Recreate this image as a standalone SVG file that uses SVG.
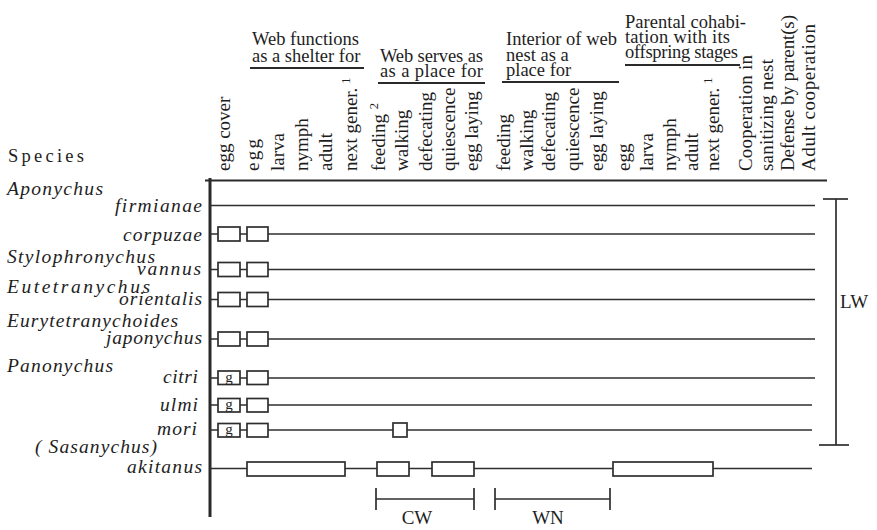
<svg xmlns="http://www.w3.org/2000/svg" width="877" height="530" viewBox="0 0 877 530" font-family="Liberation Serif, DejaVu Serif, serif">
<style>
.ln{stroke:#2e2e2e;stroke-width:1.7;fill:none}
.ax{stroke:#2a2a2a;fill:none}
.bx{fill:#fff;stroke:#2e2e2e;stroke-width:1.7}
.hd{font-size:18.5px;fill:#1e1e1e}
.vc{font-size:19px;fill:#1e1e1e}
.sm{font-size:12.5px;fill:#1e1e1e}
.g{font-size:15px;fill:#1e1e1e}
.sp{font-style:italic;font-size:19.5px;fill:#1e1e1e}
</style>
<rect width="877" height="530" fill="#fff"/>
<g id="headers">
  <text class="hd" x="8" y="162" font-size="19.5" textLength="76" lengthAdjust="spacing">Species</text>
  <g id="grp-shelter">
    <text class="hd" x="252" y="45">Web functions</text>
    <text class="hd" x="252" y="62">as a shelter for</text>
    <line class="ax" stroke-width="2" x1="250" y1="68" x2="364" y2="68"/>
  </g>
  <g id="grp-place">
    <text class="hd" x="380" y="62" textLength="103" lengthAdjust="spacing">Web serves as</text>
    <text class="hd" x="380" y="77" textLength="103" lengthAdjust="spacing">as a place for</text>
    <line class="ax" stroke-width="2" x1="378" y1="83" x2="485" y2="83"/>
  </g>
  <g id="grp-interior">
    <text class="hd" x="506" y="45">Interior of web</text>
    <text class="hd" x="506" y="61">nest as a</text>
    <text class="hd" x="506" y="76">place for</text>
    <line class="ax" stroke-width="2" x1="502" y1="82" x2="619" y2="82"/>
  </g>
  <g id="grp-parental">
    <text class="hd" x="625" y="28" textLength="121" lengthAdjust="spacing">Parental cohabi-</text>
    <text class="hd" x="625" y="43" textLength="105" lengthAdjust="spacing">tation with its</text>
    <text class="hd" x="625" y="58" textLength="113" lengthAdjust="spacing">offspring stages</text>
    <line class="ax" stroke-width="2" x1="625" y1="65" x2="740" y2="65"/>
  </g>
  <g id="columns">
    <text class="vc" transform="translate(230,171) rotate(-90)">egg cover</text>
    <text class="vc" transform="translate(259,171) rotate(-90)" textLength="32" lengthAdjust="spacing">egg</text>
    <text class="vc" transform="translate(284,171) rotate(-90)">larva</text>
    <text class="vc" transform="translate(308,171) rotate(-90)">nymph</text>
    <text class="vc" transform="translate(332,171) rotate(-90)">adult</text>
    <text class="vc" transform="translate(357,171) rotate(-90)">next gener.<tspan class="sm" dx="4" dy="-7">1</tspan></text>
    <text class="vc" transform="translate(385,171) rotate(-90)">feeding <tspan class="sm" dy="-7">2</tspan></text>
    <text class="vc" transform="translate(408,171) rotate(-90)">walking</text>
    <text class="vc" transform="translate(432,171) rotate(-90)">defecating</text>
    <text class="vc" transform="translate(455,171) rotate(-90)">quiescence</text>
    <text class="vc" transform="translate(478,171) rotate(-90)">egg laying</text>
    <text class="vc" transform="translate(510,171) rotate(-90)">feeding</text>
    <text class="vc" transform="translate(533,171) rotate(-90)">walking</text>
    <text class="vc" transform="translate(555,171) rotate(-90)">defecating</text>
    <text class="vc" transform="translate(579,171) rotate(-90)">quiescence</text>
    <text class="vc" transform="translate(603,171) rotate(-90)">egg laying</text>
    <text class="vc" transform="translate(630,171) rotate(-90)">egg</text>
    <text class="vc" transform="translate(653,171) rotate(-90)">larva</text>
    <text class="vc" transform="translate(676,171) rotate(-90)">nymph</text>
    <text class="vc" transform="translate(698,171) rotate(-90)">adult</text>
    <text class="vc" transform="translate(719,171) rotate(-90)">next gener.<tspan class="sm" dx="4" dy="-7">1</tspan></text>
    <text class="vc" transform="translate(752,171) rotate(-90)" textLength="116" lengthAdjust="spacing">Cooperation in</text>
    <text class="vc" transform="translate(773,171) rotate(-90)" textLength="112" lengthAdjust="spacing">sanitizing nest</text>
    <text class="vc" transform="translate(794,171) rotate(-90)" textLength="156" lengthAdjust="spacing">Defense by parent(s)</text>
    <text class="vc" transform="translate(815,171) rotate(-90)" textLength="147" lengthAdjust="spacing">Adult cooperation</text>
  </g>
</g>
<g id="connectors">
  <line class="ax" stroke-width="2.2" x1="205" y1="180.5" x2="827" y2="180.5"/>
  <line class="ax" stroke-width="3" x1="210" y1="178" x2="210" y2="517"/>
  <line class="ln" x1="210" y1="205.5" x2="815" y2="205.5"/>
  <line class="ln" x1="210" y1="234" x2="815" y2="234"/>
  <line class="ln" x1="210" y1="269.5" x2="815" y2="269.5"/>
  <line class="ln" x1="210" y1="299.5" x2="815" y2="299.5"/>
  <line class="ln" x1="210" y1="339" x2="815" y2="339"/>
  <line class="ln" x1="210" y1="378" x2="815" y2="378"/>
  <line class="ln" x1="210" y1="405" x2="812" y2="405"/>
  <line class="ln" x1="210" y1="430" x2="812" y2="430"/>
  <line class="ln" x1="210" y1="468.5" x2="812" y2="468.5"/>
  <g id="bracket-LW">
    <line class="ln" x1="836" y1="199" x2="836" y2="445"/>
    <line class="ln" x1="823" y1="199" x2="848" y2="199"/>
    <line class="ln" x1="819" y1="445" x2="849" y2="445"/>
  </g>
  <g id="bracket-CW">
    <line class="ln" x1="376" y1="499" x2="474" y2="499"/>
    <line class="ln" x1="376" y1="488" x2="376" y2="510"/>
    <line class="ln" x1="474" y1="488" x2="474" y2="510"/>
  </g>
  <g id="bracket-WN">
    <line class="ln" x1="495" y1="499" x2="610" y2="499"/>
    <line class="ln" x1="495" y1="488" x2="495" y2="510"/>
    <line class="ln" x1="610" y1="488" x2="610" y2="510"/>
  </g>
</g>
<g id="bracket-labels">
  <text class="vc" x="840" y="308">LW</text>
  <text class="vc" x="417" y="524" text-anchor="middle">CW</text>
  <text class="vc" x="548" y="524" text-anchor="middle">WN</text>
</g>
<g id="genus-labels">
  <text class="sp" x="7" y="195" textLength="96" lengthAdjust="spacing">Aponychus</text>
  <text class="sp" x="7" y="263" textLength="148" lengthAdjust="spacing">Stylophronychus</text>
  <text class="sp" x="7" y="293" textLength="143" lengthAdjust="spacing">Eutetranychus</text>
  <text class="sp" x="7" y="327" textLength="171" lengthAdjust="spacing">Eurytetranychoides</text>
  <text class="sp" x="7" y="372" textLength="106" lengthAdjust="spacing">Panonychus</text>
  <text class="sp" x="35" y="453" textLength="122" lengthAdjust="spacing">( Sasanychus)</text>
</g>
<g id="sp-firmianae">
  <text class="sp" x="202" y="212" text-anchor="end" textLength="87" lengthAdjust="spacing">firmianae</text>
</g>
<g id="sp-corpuzae">
  <text class="sp" x="202" y="241" text-anchor="end" textLength="79" lengthAdjust="spacing">corpuzae</text>
  <rect class="bx" x="218" y="227" width="22" height="14"/>
  <rect class="bx" x="247" y="227" width="21" height="14"/>
</g>
<g id="sp-vannus">
  <text class="sp" x="201" y="275" text-anchor="end" textLength="64" lengthAdjust="spacing">vannus</text>
  <rect class="bx" x="218" y="262.5" width="22" height="14"/>
  <rect class="bx" x="247" y="262.5" width="21" height="14"/>
</g>
<g id="sp-orientalis">
  <text class="sp" x="202" y="305" text-anchor="end" textLength="83" lengthAdjust="spacing">orientalis</text>
  <rect class="bx" x="218" y="292.5" width="22" height="14"/>
  <rect class="bx" x="247" y="292.5" width="21" height="14"/>
</g>
<g id="sp-japonychus">
  <text class="sp" x="202" y="344" text-anchor="end" textLength="96" lengthAdjust="spacing">japonychus</text>
  <rect class="bx" x="218" y="332" width="22" height="14"/>
  <rect class="bx" x="247" y="332" width="21" height="14"/>
</g>
<g id="sp-citri">
  <text class="sp" x="198" y="383" text-anchor="end" textLength="35" lengthAdjust="spacing">citri</text>
  <rect class="bx" x="218" y="371" width="22" height="13.5"/>
  <text class="g" x="229" y="381.5" text-anchor="middle">g</text>
  <rect class="bx" x="247" y="371" width="21" height="13.5"/>
</g>
<g id="sp-ulmi">
  <text class="sp" x="198" y="411" text-anchor="end" textLength="38" lengthAdjust="spacing">ulmi</text>
  <rect class="bx" x="218" y="398.5" width="22" height="13.5"/>
  <text class="g" x="229" y="409" text-anchor="middle">g</text>
  <rect class="bx" x="247" y="398.5" width="21" height="13.5"/>
</g>
<g id="sp-mori">
  <text class="sp" x="197" y="435" text-anchor="end" textLength="40" lengthAdjust="spacing">mori</text>
  <rect class="bx" x="218" y="423.5" width="22" height="13.5"/>
  <text class="g" x="229" y="434" text-anchor="middle">g</text>
  <rect class="bx" x="247" y="423.5" width="21" height="13.5"/>
  <rect class="bx" x="393" y="423" width="14" height="14"/>
</g>
<g id="sp-akitanus">
  <text class="sp" x="202" y="473" text-anchor="end" textLength="75" lengthAdjust="spacing">akitanus</text>
  <rect class="bx" x="247" y="462" width="98" height="14"/>
  <rect class="bx" x="377" y="462" width="32" height="14"/>
  <rect class="bx" x="432" y="462" width="42" height="14"/>
  <rect class="bx" x="613" y="462" width="100" height="14"/>
</g>
</svg>
